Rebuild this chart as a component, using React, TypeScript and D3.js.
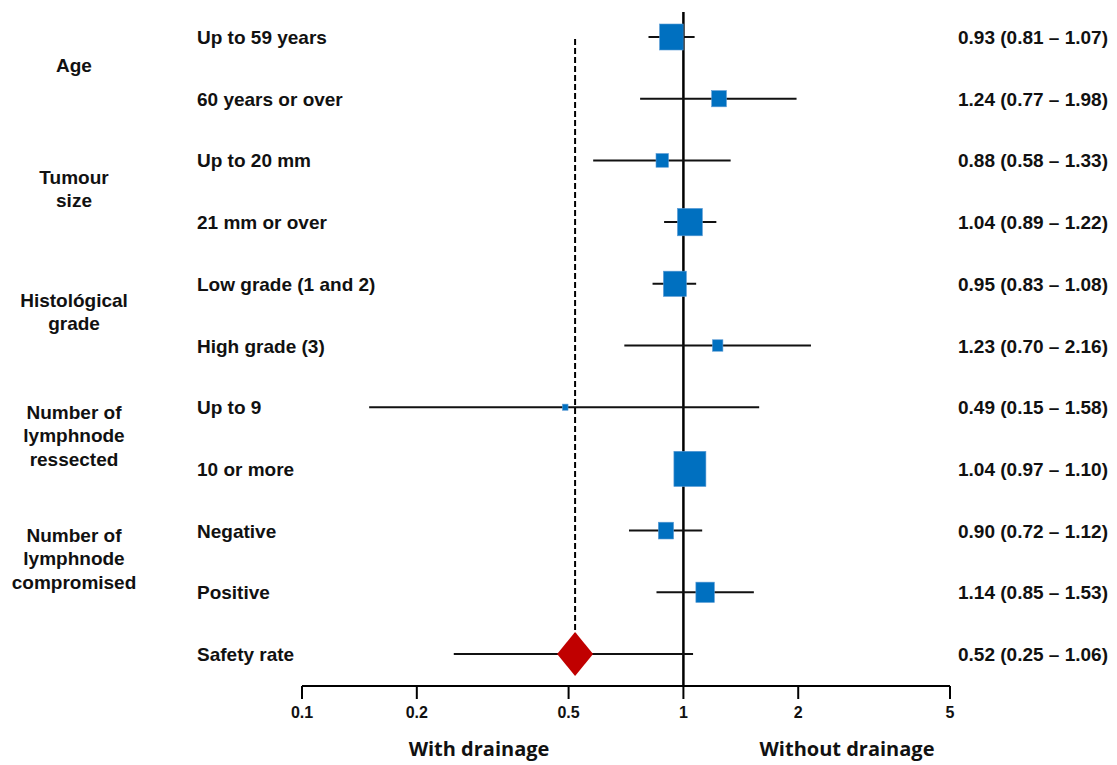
import React from 'react'
import * as d3 from 'd3'

// subgroup rows, top to bottom
const subgroups = [
  'Up to 59 years', '60 years or over',
  'Up to 20 mm', '21 mm or over',
  'Low grade (1 and 2)', 'High grade (3)',
  'Up to 9', '10 or more',
  'Negative', 'Positive',
  'Safety rate',
]
const estimates = [0.93, 1.24, 0.88, 1.04, 0.95, 1.23, 0.49, 1.04, 0.90, 1.14, 0.52]
const lower = [0.81, 0.77, 0.58, 0.89, 0.83, 0.70, 0.15, 0.97, 0.72, 0.85, 0.25]
const upper = [1.07, 1.98, 1.33, 1.22, 1.08, 2.16, 1.58, 1.10, 1.12, 1.53, 1.06]
// relative weight of each subgroup (box area), summary row has none
const weights = [18, 7, 5, 20, 17, 3.5, 1, 33, 7.5, 11, 0]

const groups = [
  { lines: ['Age'], rows: [0, 1] },
  { lines: ['Tumour', 'size'], rows: [2, 3] },
  { lines: ['Histológical', 'grade'], rows: [4, 5] },
  { lines: ['Number of', 'lymphnode', 'ressected'], rows: [6, 7] },
  { lines: ['Number of', 'lymphnode', 'compromised'], rows: [8, 9] },
]

const tickValues = [0.1, 0.2, 0.5, 1, 2, 5]
const leftLabel = 'With drainage'
const rightLabel = 'Without drainage'

const W = 1117
const H = 765
const FONT = 'Arial, Liberation Sans, sans-serif'
const BLUE = '#0070C0'
const RED = '#C00000'

const fmt = d3.format('.2f')

export default function App() {
  const x = d3.scaleLog().domain([0.1, 5]).range([302, 950])
  const y = d3.scalePoint<number>().domain(d3.range(subgroups.length)).range([37, 654])
  const side = d3.scaleSqrt().domain([0, 33]).range([0, 32])
  const axisY = 686
  const summary = subgroups.length - 1

  return (
    <div style={{ position: 'absolute', left: 0, top: 0 }}>
      <svg width={W} height={H} style={{ display: 'block', background: '#fff' }}>
        {/* line of no effect */}
        <line x1={x(1)} x2={x(1)} y1={12} y2={axisY} stroke="#000" strokeWidth={2.5} />
        {/* summary estimate reference */}
        <line x1={x(estimates[summary])} x2={x(estimates[summary])} y1={39} y2={(y(summary) ?? 0) - 20}
          stroke="#000" strokeWidth={2} strokeDasharray="6,3" />

        {subgroups.map((label, i) => {
          const cy = y(i) ?? 0
          const cx = x(estimates[i])
          const s = side(weights[i])
          return (
            <g key={i}>
              <line x1={x(lower[i])} x2={x(upper[i])} y1={cy} y2={cy} stroke="#111" strokeWidth={2} />
              {i === summary
                ? <path d={`M${cx},${cy - 22}L${cx + 18},${cy}L${cx},${cy + 22}L${cx - 18},${cy}Z`} fill={RED} />
                : <rect x={cx - s / 2} y={cy - s * 0.55} width={s} height={s * 1.1} fill={BLUE}
                    stroke="#5b9bd5" strokeWidth={0.6} />}
              <text x={197} y={cy + 7} fontFamily={FONT} fontWeight="bold" fontSize={19} fill="#111">{label}</text>
              <text x={1108} y={cy + 7} textAnchor="end" fontFamily={FONT} fontWeight="bold" fontSize={19} fill="#111">
                {`${fmt(estimates[i])} (${fmt(lower[i])} – ${fmt(upper[i])})`}
              </text>
            </g>
          )
        })}

        {groups.map((g, gi) => {
          const cy = d3.mean(g.rows, r => y(r) ?? 0) ?? 0
          const lh = 23.5
          const top = cy - ((g.lines.length - 1) * lh) / 2
          return (
            <text key={gi} x={74} textAnchor="middle" fontFamily={FONT} fontWeight="bold" fontSize={19} fill="#111">
              {g.lines.map((l, li) => (
                <tspan key={li} x={74} y={top + li * lh + 4}>{l}</tspan>
              ))}
            </text>
          )
        })}

        {/* x axis */}
        <g>
          <line x1={x(0.1)} x2={x(5)} y1={axisY} y2={axisY} stroke="#000" strokeWidth={2} />
          {tickValues.map(t => (
            <g key={t} transform={`translate(${x(t)},0)`}>
              <line y1={axisY} y2={axisY + 13} stroke="#000" strokeWidth={2} />
              <text y={axisY + 32} textAnchor="middle" fontFamily={FONT} fontWeight="bold" fontSize={16} fill="#111">
                {t}
              </text>
            </g>
          ))}
        </g>

        <text x={479} y={756} textAnchor="middle" fontFamily="Open Sans, sans-serif" fontWeight="bold" fontSize={20} fill="#111">
          {leftLabel}
        </text>
        <text x={847} y={756} textAnchor="middle" fontFamily="Open Sans, sans-serif" fontWeight="bold" fontSize={20} fill="#111">
          {rightLabel}
        </text>
      </svg>
    </div>
  )
}
